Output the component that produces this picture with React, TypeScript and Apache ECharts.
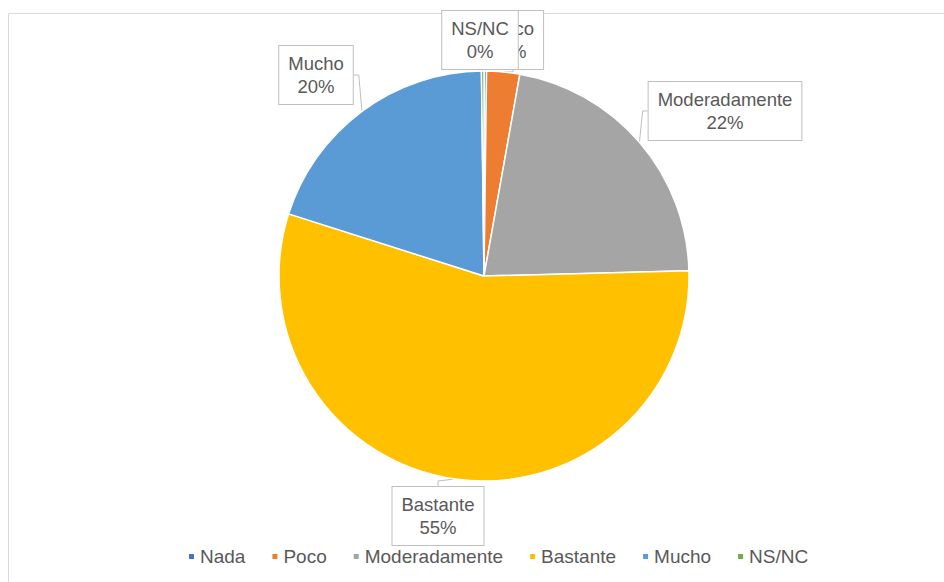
import React, { useEffect, useRef } from "react";
import * as echarts from "echarts";

const categories = ["Nada", "Poco", "Moderadamente", "Bastante", "Mucho", "NS/NC"];
const values = [0.2, 2.6, 21.8, 55.3, 19.9, 0.2];
const colors = ["#4472C4", "#ED7D31", "#A5A5A5", "#FFC000", "#5B9BD5", "#70AD47"];
const labelPos: number[][] = [
  [480, 40],
  [513, 40],
  [725, 111],
  [438, 516],
  [316, 75],
  [480, 40],
];

export default function App() {
  const ref = useRef<HTMLDivElement>(null);
  useEffect(() => {
    if (!ref.current) return;
    const chart = echarts.init(ref.current, undefined, { renderer: "svg" });
    const font = "'Liberation Sans', Arial, sans-serif";
    chart.setOption({
      animation: false,
      backgroundColor: "#ffffff",
      graphic: [
        {
          type: "rect",
          shape: { x: 8.5, y: 13.5, width: 1000, height: 1000 },
          style: { fill: "none", stroke: "#d9d9d9", lineWidth: 1 },
          silent: true,
          z: -10,
        },
      ],
      legend: {
        bottom: 11,
        left: 182,
        icon: "rect",
        itemWidth: 7,
        itemHeight: 7,
        itemGap: 25,
        textStyle: { color: "#595959", fontSize: 19, fontFamily: font },
        data: categories,
      },
      series: [
        {
          type: "pie",
          center: [484, 276],
          radius: [0, 205],
          startAngle: 90,
          clockwise: true,
          data: categories.map((c, i) => ({
            name: c,
            value: values[i],
            itemStyle: { color: colors[i] },
          })),
          itemStyle: { borderColor: "#ffffff", borderWidth: 1.5 },
          label: {
            show: true,
            formatter: (p: any) => `${p.name}\n${Math.round(p.percent)}%`,
            color: "#595959",
            fontSize: 18.5,
            fontFamily: font,
            lineHeight: 23,
            align: "center",
            backgroundColor: "#ffffff",
            borderColor: "#bfbfbf",
            borderWidth: 1,
            padding: [6, 9],
          },
          labelLine: {
            show: true,
            length: 5,
            length2: 5,
            lineStyle: { color: "#bfbfbf", width: 1 },
          },
          labelLayout: (params: any) => {
            const p = labelPos[params.dataIndex];
            return { x: p[0], y: p[1], align: "center", verticalAlign: "middle", hideOverlap: false };
          },
          emphasis: { disabled: true },
        },
      ],
    });
    return () => chart.dispose();
  }, []);
  return (
    <div
      ref={ref}
      style={{ position: "fixed", left: 0, top: 0, width: 944, height: 582 }}
    />
  );
}
